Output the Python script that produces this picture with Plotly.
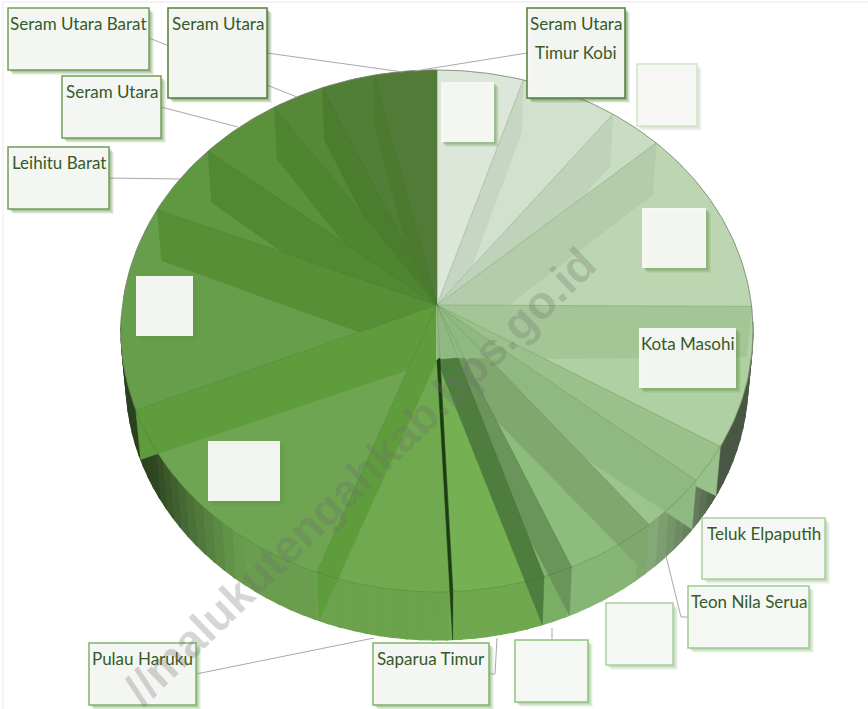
import math
import plotly.graph_objects as go

# ---- data (share of the pie, clockwise from 12 o'clock)
share_pct = [4.4, 5.0, 2.8, 11.3, 8.8, 2.4, 3.6, 4.7, 1.5, 4.7, 7.0, 13.9, 12.6, 4.4, 4.3, 2.7, 2.7, 3.2]

# ---- label texts (blank boxes in the reference have empty text)
label_texts = ["Seram Utara Barat", "Seram Utara", "Seram Utara", "Leihitu Barat",
               "Seram Utara<br>Timur Kobi", "", "", "", "Kota Masohi", "", "",
               "Teluk Elpaputih", "Teon Nila Serua", "", "", "Saparua Timur", "Pulau Haruku"]

# ---- styles
slice_colors = ["#dce7da", "#d2e1cd", "#c9ddc2", "#bcd6b2", "#aed0a3", "#a5ca98", "#9cc58d", "#8dbd7b",
                "#7fb66a", "#75b053", "#70a94f", "#6fa552", "#669e4b", "#609841", "#5c913c", "#578739", "#527f37", "#517b36"]
wall_colors = ["#dce7da", "#c7d6c3", "#bed3b8", "#b3cdab", "#a4c696", "#9ac08c", "#90b982", "#80a86e",
               "#6a9459", "#4f7d3e", "#1c3d12", "#5f9d3c", "#5f9c3c", "#578f36", "#518833", "#4f8430", "#4c7d2f", "#4c7a2e"]

label_boxes = [(8, 8, 149, 70), (168, 8, 267, 98), (62, 76, 161, 138), (8, 147, 109, 209),
               (527, 8, 625, 98), (637, 64, 697, 126), (441, 82, 494, 142), (642, 208, 706, 268),
               (639, 328, 736, 388), (136, 276, 193, 336), (208, 441, 280, 501),
               (702, 518, 825, 579), (688, 586, 809, 648), (606, 603, 673, 665),
               (515, 640, 588, 702), (373, 643, 489, 705), (89, 643, 196, 705)]
box_borders = ["#6f9f56", "#4f8035", "#6f9f56", "#6f9f56", "#4f8035", "#cfe3c7", None, None, None, None, None,
               "#a9cf9b", "#9ccb8c", "#a9cf9b", "#8fc47c", "#7db566", "#7db566"]
leaders = [[(149, 38), (297, 97)], [(267, 53), (403, 72)], [(161, 107), (238, 127)], [(109, 178), (180, 179)],
           [(527, 53), (415, 71)], [(196, 674), (374, 638)], [(489, 674), (495, 674), (497, 638)],
           [(552, 640), (552, 628)], [(688, 617), (681, 617), (666, 556)]]

# ---- geometry of the drawing
APEX = (437, 305)
LOW_APEX = (437, 360)
TOP = (437, 331, 316, 261)
BOT = (437, 381, 311, 259)


def rim(e, deg):
    t = math.radians(deg)
    return e[0] + e[2] * math.sin(t), e[1] - e[3] * math.cos(t)


def arc(e, a, b, step=1.0):
    n = max(2, int(abs(b - a) / step) + 1)
    return [rim(e, a + (b - a) * i / (n - 1)) for i in range(n)]


def scale(hex_c, k):
    r, g, b = (int(hex_c[i:i + 2], 16) for i in (1, 3, 5))
    return "rgb(%d,%d,%d)" % (r * k, g * k, b * k)


total = sum(share_pct)
edges = [0.0]
for v in share_pct:
    edges.append(edges[-1] + v / total * 360)

fig = go.Figure()


def poly(pts, color, line=None, w=0.6):
    xs = [p[0] for p in pts] + [pts[0][0]]
    ys = [p[1] for p in pts] + [pts[0][1]]
    fig.add_trace(go.Scatter(x=xs, y=ys, mode="lines", fill="toself", fillcolor=color,
                             line=dict(color=line or color, width=w), hoverinfo="skip", showlegend=False))


def color_at(deg):
    for i in range(len(share_pct)):
        if edges[i] <= deg <= edges[i + 1]:
            return slice_colors[i]
    return slice_colors[-1]


def side_shade(deg):
    d = abs(deg - 180)
    if d > 38:
        return max(0.42, 0.96 - (d - 38) * 0.02)
    return 0.96


# outer wall of the disc
STEP = 2.5
deg = 88.0
while deg < 272:
    a = arc(TOP, deg, deg + STEP + 0.3, 1)
    b = arc(BOT, deg + STEP + 0.3, deg, 1)
    c = scale(color_at(deg + STEP / 2), side_shade(deg + STEP / 2))
    poly(a + b, c, w=1.2)
    deg += STEP

# top face
for i, c in enumerate(slice_colors):
    poly([APEX] + arc(TOP, edges[i], edges[i + 1]), c)

# inner walls seen through the translucent disc: painted from the back to the front
n = len(share_pct)
order = list(range(n - 1, 10, -1)) + list(range(1, 11))
for i in order:
    d = edges[i]
    top_pt = rim(TOP, d)
    start = APEX
    if 7 <= i <= 10:
        t = (LOW_APEX[1] - 2 - APEX[1]) / (top_pt[1] - APEX[1])
        start = (APEX[0] + t * (top_pt[0] - APEX[0]), LOW_APEX[1] - 2)
    poly([start, top_pt, rim(BOT, d), LOW_APEX], wall_colors[i], w=0.5)

# thin slice edges running into the centre
for i in range(1, n):
    p = rim(TOP, edges[i])
    fig.add_trace(go.Scatter(x=[APEX[0], p[0]], y=[APEX[1], p[1]], mode="lines",
                             line=dict(color="rgba(60,100,50,0.22)", width=0.8), hoverinfo="skip", showlegend=False))

# seam and outline
seam = arc(TOP, 95, 265)
fig.add_trace(go.Scatter(x=[p[0] for p in seam], y=[p[1] for p in seam], mode="lines",
                         line=dict(color="rgba(60,110,40,0.30)", width=1), hoverinfo="skip", showlegend=False))
outline = arc(TOP, -100, 100)
fig.add_trace(go.Scatter(x=[p[0] for p in outline], y=[p[1] for p in outline], mode="lines",
                         line=dict(color="rgba(120,130,115,0.8)", width=1), hoverinfo="skip", showlegend=False))

shapes = [dict(type="rect", x0=3, y0=2, x1=880, y1=720, line=dict(color="#e9e9e9", width=1), layer="below")]
for path in leaders:
    d = "M" + " L".join("%g,%g" % p for p in path)
    shapes.append(dict(type="path", path=d, line=dict(color="#a9a9a9", width=1)))

annotations = []
for (x0, y0, x1, y1), bc, text in zip(label_boxes, box_borders, label_texts):
    col = bc or "#6fa552"
    for off, al in ((5, 0.10), (4, 0.14), (3, 0.18), (2, 0.22)):
        shapes.append(dict(type="rect", x0=x0 + off, y0=y0 + off, x1=x1 + off, y1=y1 + off,
                           line=dict(width=0), fillcolor=scale(col, 0.9).replace("rgb", "rgba").replace(")", ",%.2f)" % al)))
    shapes.append(dict(type="rect", x0=x0, y0=y0, x1=x1, y1=y1, fillcolor="rgba(247,248,246,0.96)",
                       line=dict(color=bc or "rgba(0,0,0,0)", width=1.5 if bc else 0)))
    if text:
        for j, line_text in enumerate(text.split("<br>")):
            annotations.append(dict(x=(x0 + x1) / 2, y=y0 + 3 + 29 * j, xref="x", yref="y", text=line_text,
                                    showarrow=False, xanchor="center", yanchor="top", align="center",
                                    font=dict(family="Lato", size=17, color="#375a26")))

annotations.append(dict(x=360, y=476, xref="x", yref="y", text="<b>//malukutengahkab.bps.go.id</b>",
                        showarrow=False, textangle=-44, xanchor="center", yanchor="middle",
                        font=dict(family="Liberation Sans", size=46, color="rgba(110,110,110,0.28)")))

fig.update_layout(width=868, height=709, margin=dict(l=0, r=0, t=0, b=0), paper_bgcolor="white",
                  plot_bgcolor="white", showlegend=False, shapes=shapes, annotations=annotations,
                  xaxis=dict(range=[0, 868], visible=False, fixedrange=True),
                  yaxis=dict(range=[709, 0], visible=False, fixedrange=True))
fig.write_html("out.html", config=dict(displayModeBar=False),
               post_script="document.body.style.margin='0';document.body.style.overflow='hidden';")
